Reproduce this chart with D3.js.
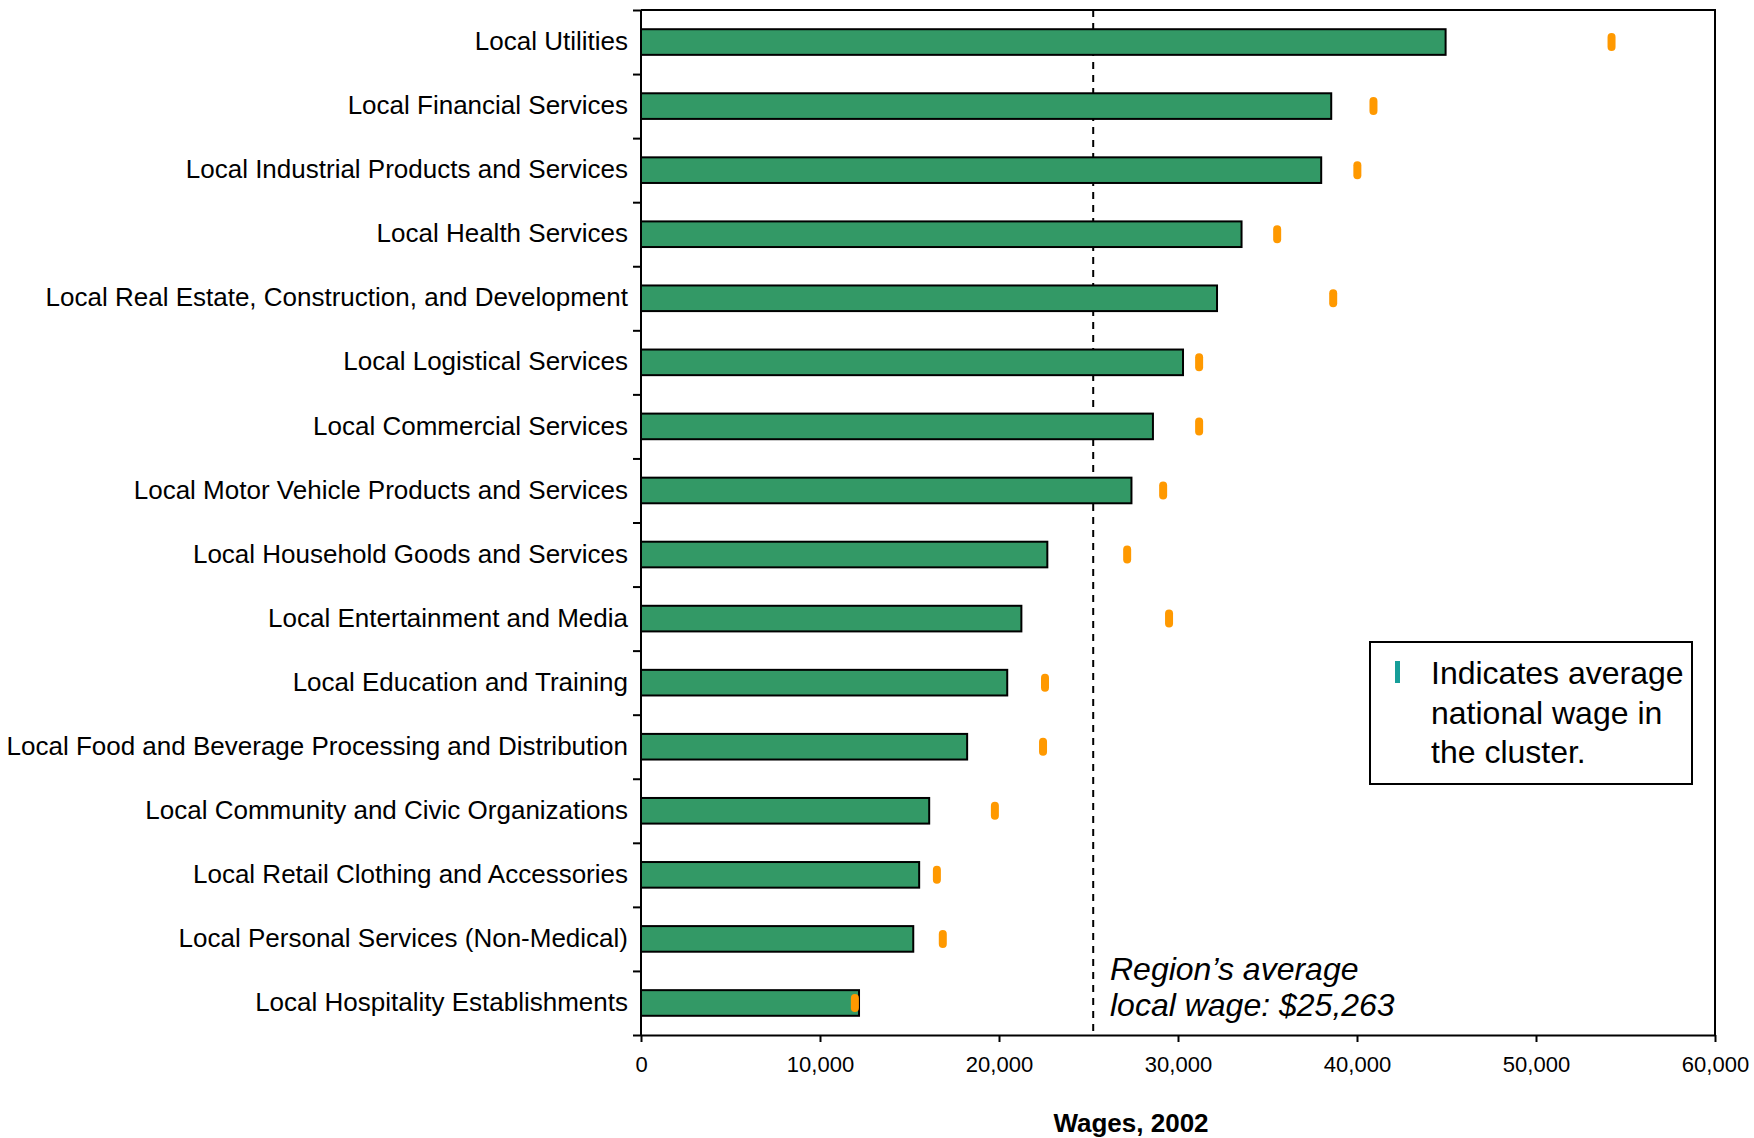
<!DOCTYPE html>
<html>
<head>
<meta charset="utf-8">
<script src="https://cdn.jsdelivr.net/npm/d3@7"></script>
<style>
  html, body { margin: 0; padding: 0; background: #fff; }
  svg { display: block; font-family: "Liberation Sans", Arial, Helvetica, sans-serif; }
</style>
</head>
<body>
<svg id="chart" width="1754" height="1138"></svg>
<script>
// Local cluster wages, 2002
const categories = [
  "Local Utilities",
  "Local Financial Services",
  "Local Industrial Products and Services",
  "Local Health Services",
  "Local Real Estate, Construction, and Development",
  "Local Logistical Services",
  "Local Commercial Services",
  "Local Motor Vehicle Products and Services",
  "Local Household Goods and Services",
  "Local Entertainment and Media",
  "Local Education and Training",
  "Local Food and Beverage Processing and Distribution",
  "Local Community and Civic Organizations",
  "Local Retail Clothing and Accessories",
  "Local Personal Services (Non-Medical)",
  "Local Hospitality Establishments"
];
// Regional average wage in each cluster
const regionalWages = [44950, 38560, 38000, 33550, 32180, 30280, 28600, 27400,
                       22700, 21250, 20460, 18220, 16100, 15540, 15210, 12180];
// Average national wage in each cluster
const nationalWages = [54220, 40920, 40020, 35540, 38670, 31180, 31180, 29170,
                       27160, 29500, 22570, 22460, 19770, 16530, 16860, 11950];
const xTicks = [0, 10000, 20000, 30000, 40000, 50000, 60000];
const regionAverage = 25263;
const averageLabel = ["Region\u2019s average", "local wage: $25,263"];
const legendLines = ["Indicates average", "national wage in", "the cluster."];
const xTitle = "Wages, 2002";

const svg = d3.select("#chart");
const plot = { left: 641, right: 1715, top: 10, bottom: 1035 };

const x = d3.scaleLinear().domain([0, 60000]).range([plot.left, plot.right]);
const y = d3.scaleBand().domain(categories).range([plot.top, plot.bottom])
  .paddingInner(0.6).paddingOuter(0.3);
const idx = d3.scaleLinear().domain([0, categories.length]).range([plot.top, plot.bottom]);

// frame: top and right edges
svg.append("path")
  .attr("d", `M${plot.left},${plot.top}H${plot.right}V${plot.bottom}`)
  .attr("fill", "none").attr("stroke", "#000").attr("stroke-width", 2);

// left axis: ticks on category boundaries
const yAxis = svg.append("g").attr("transform", `translate(${plot.left},0)`)
  .call(d3.axisLeft(idx).tickValues(d3.range(0, categories.length + 1)).tickSize(8).tickFormat(""));
yAxis.selectAll("path, line").attr("stroke", "#000").attr("stroke-width", 2);
yAxis.select(".domain").attr("d", `M0,${plot.top}V${plot.bottom}`);

// category labels
svg.append("g").selectAll("text").data(categories).join("text")
  .attr("x", plot.left - 13)
  .attr("y", d => y(d) + y.bandwidth() / 2 - 1)
  .attr("dy", "0.35em")
  .attr("text-anchor", "end")
  .attr("font-size", 26)
  .attr("fill", "#000")
  .text(d => d);

// bottom axis
const xAxis = svg.append("g").attr("transform", `translate(0,${plot.bottom})`)
  .call(d3.axisBottom(x).tickValues(xTicks).tickSize(7).tickSizeOuter(0).tickPadding(14).tickFormat(d3.format(",")));
xAxis.selectAll("path, line").attr("stroke", "#000").attr("stroke-width", 2);
xAxis.selectAll("text").attr("font-size", 22).attr("fill", "#000")
  .attr("font-family", "'Liberation Sans', Arial, sans-serif");

// average local wage reference line
svg.append("line")
  .attr("x1", x(regionAverage)).attr("x2", x(regionAverage))
  .attr("y1", plot.top).attr("y2", plot.bottom)
  .attr("stroke", "#000").attr("stroke-width", 2).attr("stroke-dasharray", "7,6");

// bars
svg.append("g").selectAll("rect").data(categories).join("rect")
  .attr("x", x(0))
  .attr("y", d => y(d))
  .attr("width", (d, i) => x(regionalWages[i]) - x(0))
  .attr("height", y.bandwidth())
  .attr("fill", "#339966")
  .attr("stroke", "#000")
  .attr("stroke-width", 2);

// national wage markers
const mw = 8, mh = 18;
svg.append("g").selectAll("rect").data(categories).join("rect")
  .attr("x", (d, i) => x(nationalWages[i]) - mw / 2)
  .attr("y", d => y(d) + y.bandwidth() / 2 - mh / 2)
  .attr("width", mw).attr("height", mh)
  .attr("rx", mw / 2).attr("ry", mw / 2)
  .attr("fill", "#FF9900");

// annotation for the reference line
svg.append("g").selectAll("text").data(averageLabel).join("text")
  .attr("x", 1110)
  .attr("y", (d, i) => 980 + i * 36)
  .attr("font-size", 32).attr("font-style", "italic").attr("fill", "#000")
  .text(d => d);

// legend
const lg = svg.append("g");
lg.append("rect").attr("x", 1370).attr("y", 642).attr("width", 322).attr("height", 142)
  .attr("fill", "#fff").attr("stroke", "#000").attr("stroke-width", 2);
lg.append("rect").attr("x", 1395).attr("y", 661).attr("width", 5).attr("height", 22)
  .attr("fill", "#169e99");
lg.selectAll("text.legend").data(legendLines).join("text")
  .attr("class", "legend")
  .attr("x", 1431)
  .attr("y", (d, i) => 684 + i * 39.5)
  .attr("font-size", 32).attr("fill", "#000")
  .text(d => d);

// axis title
svg.append("text")
  .attr("x", 1131).attr("y", 1132)
  .attr("text-anchor", "middle")
  .attr("font-size", 26).attr("font-weight", "bold").attr("fill", "#000")
  .text(xTitle);
</script>
</body>
</html>
